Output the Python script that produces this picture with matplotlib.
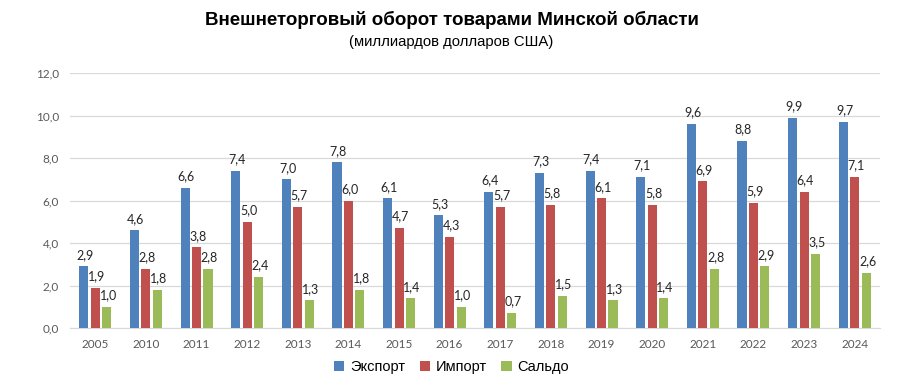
import matplotlib.pyplot as plt
import numpy as np

years = ["2005", "2010", "2011", "2012", "2013", "2014", "2015", "2016",
         "2017", "2018", "2019", "2020", "2021", "2022", "2023", "2024"]
export = [2.9, 4.6, 6.6, 7.4, 7.0, 7.8, 6.1, 5.3, 6.4, 7.3, 7.4, 7.1, 9.6, 8.8, 9.9, 9.7]
imports = [1.9, 2.8, 3.8, 5.0, 5.7, 6.0, 4.7, 4.3, 5.7, 5.8, 6.1, 5.8, 6.9, 5.9, 6.4, 7.1]
saldo = [1.0, 1.8, 2.8, 2.4, 1.3, 1.8, 1.4, 1.0, 0.7, 1.5, 1.3, 1.4, 2.8, 2.9, 3.5, 2.6]

x = np.arange(len(years))
width = 0.18
step = 0.227

fig = plt.figure(figsize=(9.03, 3.87), dpi=100)
ax = fig.add_axes([70 / 903, 1 - 328 / 387, 810 / 903, 255 / 387])

series = [
    (export, "Экспорт", "#4F81BD", -step),
    (imports, "Импорт", "#C0504D", 0),
    (saldo, "Сальдо", "#9BBB59", step),
]

for vals, name, color, off in series:
    bars = ax.bar(x + off, vals, width, color=color, label=name, zorder=3)
    for b, v in zip(bars, vals):
        ax.annotate(f"{v:.1f}".replace(".", ","),
                    (b.get_x() + b.get_width() / 2, v),
                    xytext=(1, 4), textcoords="offset points",
                    ha="center", va="bottom", fontsize=9,
                    family="Lato", color="#262626")

ax.set_xlim(-0.5, len(years) - 0.5)
ax.set_ylim(0, 12)
ax.set_yticks(np.arange(0, 12.1, 2))
ax.set_yticklabels([f"{t:.1f}".replace(".", ",") for t in np.arange(0, 12.1, 2)])
ax.set_xticks(x)
ax.set_xticklabels(years)
ax.tick_params(axis="both", length=0, labelsize=8.5, labelcolor="#595959", pad=8)
for lbl in ax.get_xticklabels() + ax.get_yticklabels():
    lbl.set_family("Lato")

ax.grid(axis="y", color="#D9D9D9", linewidth=0.9, zorder=0)
for s in ["top", "right", "left"]:
    ax.spines[s].set_visible(False)
ax.spines["bottom"].set_color("#D9D9D9")

fig.text(0.5, 1 - 20 / 387, "Внешнеторговый оборот товарами Минской области",
         ha="center", va="center", fontsize=13.5, fontweight="bold",
         family="Liberation Sans")
fig.text(0.5, 1 - 42 / 387, "(миллиардов долларов США)",
         ha="center", va="center", fontsize=10.7, family="Liberation Sans")

leg = fig.legend(loc="center", bbox_to_anchor=(0.5, 1 - 367 / 387), ncol=3,
                 frameon=False, handlelength=0.7, handleheight=0.7,
                 handletextpad=0.4, columnspacing=1.0,
                 prop={"family": "Liberation Sans", "size": 10.5})

plt.savefig("out.png", dpi=100)
